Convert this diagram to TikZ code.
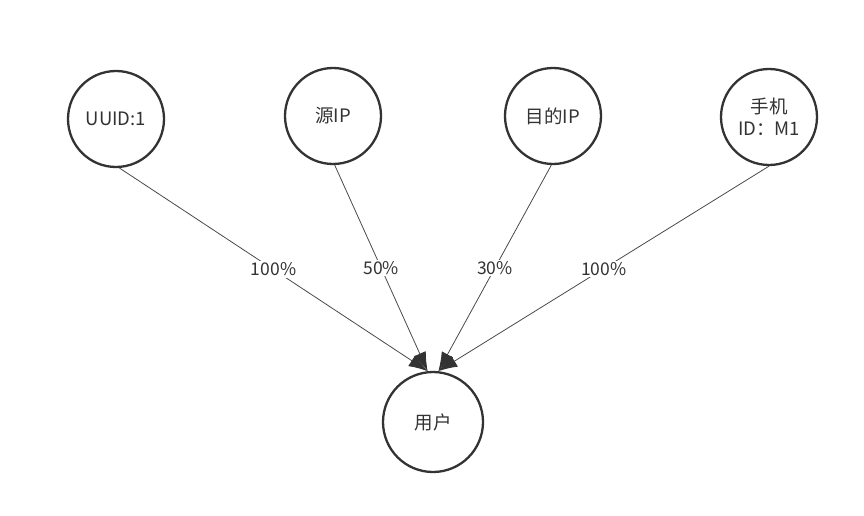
\documentclass[tikz,border=0pt]{standalone}
\usepackage{fontspec}
\setmainfont{Noto Sans CJK SC}
\usetikzlibrary{arrows.meta}
\definecolor{ink}{HTML}{333333}
\definecolor{edge}{HTML}{4A4A4A}
\begin{document}
\begin{tikzpicture}[x=1pt,y=-1pt,
  entity/.style={circle,draw=ink,line width=2.3pt,minimum size=96pt,inner sep=0pt,
    text=ink,font=\fontsize{18.5}{22}\selectfont,align=center},
  link/.style={draw=edge,line width=0.8pt,-{Latex[length=19pt,width=13pt,color=ink]}},
  pct/.style={fill=white,text=ink,font=\fontsize{17.5}{20}\selectfont,inner sep=1.5pt}]
\useasboundingbox[fill=white] (0,0) rectangle (864,516);
\node[entity] (uuid) at (116,119) {UUID:1};
\node[entity] (src) at (333,116) {源IP};
\node[entity] (dst) at (553,116) {目的IP};
\node[entity] (phone) at (769,117) {手机\\ID：M1};
\node[entity,minimum size=100pt] (user) at (433,422) {用户};
\draw[link] (uuid.-86) -- node[pct]{100\%} (user.96);
\draw[link] (src.-88) -- node[pct]{50\%} (user.96);
\draw[link] (dst.-92) -- node[pct]{30\%} (user.84);
\draw[link] (phone.-90) -- node[pct]{100\%} (user.84);
\end{tikzpicture}
\end{document}
